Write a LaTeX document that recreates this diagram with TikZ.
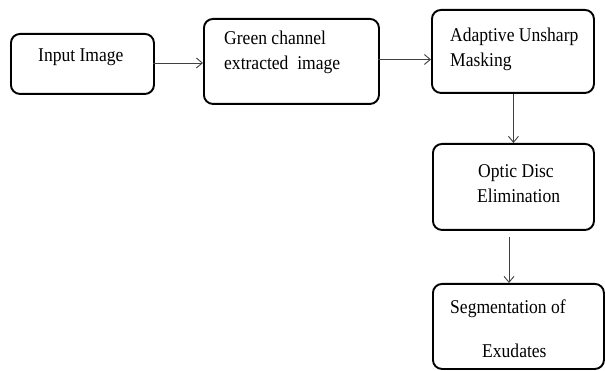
\documentclass[tikz,border=0pt]{standalone}
\usepackage{fontspec}
\setmainfont[FakeStretch=0.9]{Liberation Serif}
\usetikzlibrary{arrows.meta}
\begin{document}
\begin{tikzpicture}[x=1pt,y=-1pt,
  box/.style={draw=black, line width=1.9pt, rounded corners=9pt, anchor=north west, inner sep=0pt},
  lbl/.style={anchor=base west, inner sep=0pt, font=\fontsize{19.5}{22}\selectfont},
  conn/.style={draw=black!75, line width=0.9pt, -{Straight Barb[length=6pt,width=10pt,line width=0.9pt]}}]
\useasboundingbox (0,0) rectangle (605,371);
\node[box, minimum width=143pt, minimum height=60pt] (b1) at (10,33) {};
\node[box, minimum width=175pt, minimum height=85pt] (b2) at (203,18) {};
\node[box, minimum width=162pt, minimum height=83pt] (b3) at (431,9) {};
\node[box, minimum width=161pt, minimum height=86pt] (b4) at (432,143) {};
\node[box, minimum width=171pt, minimum height=85pt] (b5) at (432,283) {};
\node[lbl] (t1) at (38,62) {Input Image};
\node[lbl] (t2a) at (224,45) {Green channel};
\node[lbl] (t2b) at (224,70) {extracted\ \ image};
\node[lbl] (t3a) at (450,42) {Adaptive Unsharp};
\node[lbl] (t3b) at (450,67) {Masking};
\node[lbl] (t4a) at (478,178) {Optic Disc};
\node[lbl] (t4b) at (477,203) {Elimination};
\node[lbl] (t5a) at (450,314) {Segmentation of};
\node[lbl] (t5b) at (482,357) {Exudates};
\coordinate (a1) at (153,63);
\coordinate (a2) at (378,59.5);
\coordinate (a4) at (509,237);
\draw[conn] (a1) -- (a1 -| b2.west);
\draw[conn] (a2) -- (a2 -| b3.west);
\draw[conn] (b4.north |- b3.south) -- (b4.north);
\draw[conn] (a4) -- (a4 |- b5.north);
\end{tikzpicture}
\end{document}
